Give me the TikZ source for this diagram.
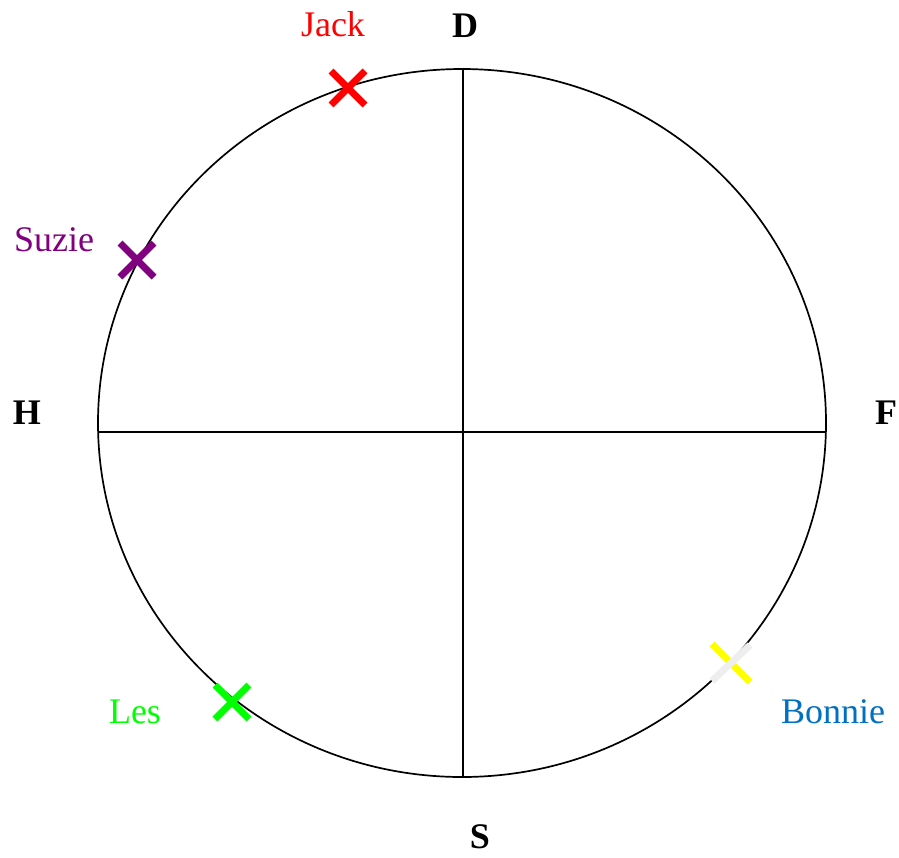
\documentclass[tikz,border=0pt]{standalone}
\usepackage{fontspec}
\setmainfont{Liberation Serif}
\definecolor{jackred}{RGB}{255,0,0}
\definecolor{suziepurple}{RGB}{128,0,128}
\definecolor{lesgreen}{RGB}{0,255,0}
\definecolor{bonnieblue}{RGB}{0,112,192}
\definecolor{bonnieyellow}{RGB}{255,255,0}
\definecolor{bonniegray}{RGB}{238,238,238}
\begin{document}
\begin{tikzpicture}[x=1pt,y=-1pt,
  axis/.style={line width=1.7pt,black},
  lbl/.style={font=\fontsize{36}{40}\selectfont,inner sep=0pt,anchor=base},
  dir/.style={font=\fontsize{36}{40}\selectfont\bfseries,inner sep=0pt,anchor=base},
  armA/.style={line width=7pt},
  armB/.style={line width=7pt}]
\useasboundingbox (0,0) rectangle (899,857);
\fill[white] (0,0) rectangle (899,857);
% circle
\coordinate (C) at (462,423);
\draw[axis] (C) ellipse [x radius=364, y radius=354];
\coordinate (top) at (463,69);
\coordinate (bot) at (463,777);
\coordinate (lft) at (98,432);
\coordinate (rgt) at (826,432);
\draw[axis] (top) -- (bot);
\draw[axis] (lft) -- (rgt);
% direction labels
\node[dir] (D) at (465,37) {D};
\node[dir] (H) at (27,424) {H};
\node[dir] (F) at (886,424) {F};
\node[dir] (S) at (480,848) {S};
% markers
\coordinate (jack) at (348,88);
\coordinate (suzie) at (137,260);
\coordinate (les) at (232,702);
\coordinate (bonnie) at (731,663);
\foreach \p/\c in {jack/jackred, suzie/suziepurple, les/lesgreen}{
  \draw[armA,\c] ([shift={(-17,-17)}]\p) -- ([shift={(17,17)}]\p);
  \draw[armB,\c] ([shift={(-17,17)}]\p) -- ([shift={(17,-17)}]\p);
}
\draw[armA,bonnieyellow] ([shift={(-19,-19)}]bonnie) -- ([shift={(19,19)}]bonnie);
\draw[armB,bonniegray] ([shift={(-19,18)}]bonnie) -- ([shift={(19,-18)}]bonnie);
% names
\node[lbl,text=jackred] (jackl) at (333,36) {Jack};
\node[lbl,text=suziepurple] (suziel) at (54,251) {Suzie};
\node[lbl,text=lesgreen] (lesl) at (135,723) {Les};
\node[lbl,text=bonnieblue] (bonniel) at (833,723) {Bonnie};
\end{tikzpicture}
\end{document}
